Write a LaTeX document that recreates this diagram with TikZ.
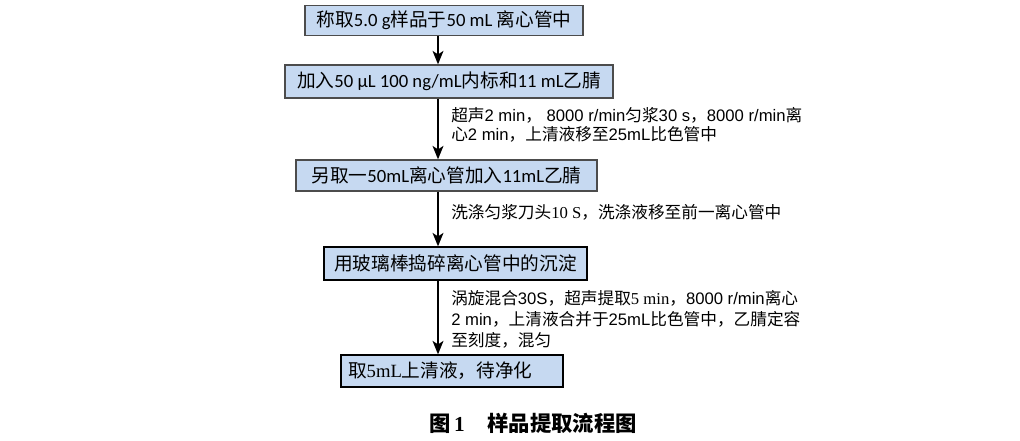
\documentclass[tikz,border=0pt]{standalone}
\usepackage{fontspec}
\setmainfont{Liberation Serif}
\newfontfamily\cjk{Noto Sans CJK SC}
\newfontfamily\cali{Carlito}
\newfontfamily\ari{Liberation Sans}
\newfontfamily\tnr{Liberation Serif}
\newcommand\C[1]{{\cjk #1}}
\usetikzlibrary{arrows.meta}
\definecolor{boxblue}{HTML}{C6D9F1}
\begin{document}
\begin{tikzpicture}[x=0.75pt,y=-0.75pt,
  stepbox/.style={draw=black!70, line width=0.9pt, fill=boxblue, inner sep=0pt,
    font=\fontsize{14}{16}\selectfont},
  arr/.style={-{Stealth[length=10pt,width=8pt,inset=2.5pt]}, line width=1.9pt},
  lbl/.style={anchor=north west, align=left, inner sep=0pt}]
\useasboundingbox (0,0) rectangle (1020,440);
\coordinate (ax) at (438,0);

\node[stepbox, minimum width=208.5pt, minimum height=22.5pt] (b1) at (444,20.5)
  {\C{称取}\cali 5.0 g\C{样品于}50 mL \C{离心管中}};
\node[stepbox, minimum width=246pt, minimum height=24.75pt] (b2) at (449,81.5)
  {\C{加入}\cali 50 μL 100 ng/mL\C{内标和}11 mL\C{乙腈}};
\node[stepbox, minimum width=225.75pt, minimum height=23.25pt] (b3) at (446.5,175.5)
  {\C{另取一}\cali 50mL\C{离心管加入}11mL\C{乙腈}};
\node[stepbox, draw=black, minimum width=197.25pt, minimum height=24.75pt] (b4) at (455.5,263.5)
  {\C{用玻璃棒捣碎离心管中的沉淀}};
\node[stepbox, draw=black, minimum width=166.5pt, minimum height=24pt] (b5) at (452,371)
  {\makebox[156pt][l]{\C{取}{\tnr 5mL}\C{上清液，待净化}}};

\draw[arr] (b1.south -| ax) -- (b2.north -| ax);
\draw[arr] (b2.south -| ax) -- (b3.north -| ax);
\draw[arr] (b3.south -| ax) -- (b4.north -| ax);
\draw[arr] (b4.south -| ax) -- (b5.north -| ax);

\node[lbl, font=\fontsize{12.5}{14.5}\selectfont\ari] (l2) at (451,107)
  {\C{超声}2 min\C{，} 8000 r/min\C{匀浆}30 s\C{，}8000 r/min\C{离}\\
   \C{心}2 min\C{，上清液移至}25mL\C{比色管中}};
\node[lbl, font=\fontsize{12.5}{14.5}\selectfont\tnr] (l3) at (451,204)
  {\C{洗涤匀浆刀头}10 S\C{，洗涤液移至前一离心管中}};
\node[lbl, font=\fontsize{12.5}{15.75}\selectfont\ari] (l4) at (451,290)
  {\C{涡旋混合}30S\C{，超声提取}{\tnr 5 min}\C{，}8000 r/min\C{离心}\\
   2 min\C{，上清液合并于}25mL\C{比色管中，乙腈定容}\\
   \C{至刻度，混匀}};

\node[font=\fontsize{16}{18}\selectfont\bfseries, inner sep=0pt] (cap) at (533,423)
  {\C{\bfseries 图}\,1\hspace{17pt}\C{\bfseries 样品提取流程图}};
\end{tikzpicture}
\end{document}
